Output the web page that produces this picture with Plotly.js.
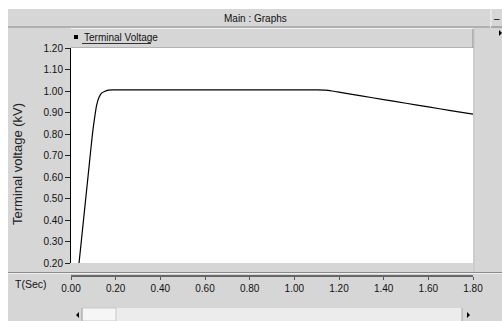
<!DOCTYPE html>
<html><head><meta charset="utf-8">
<script src="https://cdn.plot.ly/plotly-3.0.1.min.js"></script>
<style>html,body{margin:0;padding:0;background:#d6d6d6;}#chart{width:502px;height:321px;}</style>
</head><body><div id="chart"></div>
<script>
// ---- data ----
const timeSec   = [0.016, 0.036, 0.060, 0.080, 0.095, 0.105, 0.115, 0.125, 0.137, 0.150, 0.167, 0.190, 0.220, 0.400, 0.600, 0.800, 1.000, 1.100, 1.140, 1.170, 1.200, 1.300, 1.400, 1.500, 1.600, 1.700, 1.800];
const voltageKV = [0.000, 0.200, 0.440, 0.640, 0.790, 0.870, 0.935, 0.970, 0.990, 0.998, 1.004, 1.005, 1.005, 1.005, 1.005, 1.005, 1.005, 1.005, 1.004, 1.000, 0.995, 0.977, 0.960, 0.943, 0.926, 0.909, 0.892];
const yTickVals = [0.2, 0.3, 0.4, 0.5, 0.6, 0.7, 0.8, 0.9, 1.0, 1.1, 1.2];
const yTickText = ["0.20","0.30","0.40","0.50","0.60","0.70","0.80","0.90","1.00","1.10","1.20"];
const xTickVals = [0, 0.2, 0.4, 0.6, 0.8, 1.0, 1.2, 1.4, 1.6, 1.8];
const xTickText = ["0.00","0.20","0.40","0.60","0.80","1.00","1.20","1.40","1.60","1.80"];
const seriesName = "Terminal Voltage";
const windowTitle = "Main : Graphs";
const yTitle = "Terminal voltage (kV)";
const xTitle = "T(Sec)";

// ---- layout geometry (pixels -> paper) ----
const W = 502, H = 321, ML = 71, MR = 29, MT = 48, MB = 46;
const PW = W - ML - MR, PH = H - MT - MB;
const px = v => (v - ML) / PW;
const py = v => (H - MB - v) / PH;
const FONT = '"Liberation Sans", Arial, sans-serif';
const GRAY = '#d6d6d6';

function rect(x0, y0, x1, y1, fill, line) {
  return {type: 'rect', xref: 'paper', yref: 'paper', layer: 'below',
    x0: px(x0), x1: px(x1), y0: py(y0), y1: py(y1),
    fillcolor: fill, line: line || {width: 0}};
}
function hline(x0, x1, y, color, w) {
  return {type: 'line', xref: 'paper', yref: 'paper', layer: 'below',
    x0: px(x0), x1: px(x1), y0: py(y), y1: py(y), line: {color: color, width: w || 1}};
}
function vline(x, y0, y1, color, w) {
  return {type: 'line', xref: 'paper', yref: 'paper', layer: 'below',
    x0: px(x), x1: px(x), y0: py(y0), y1: py(y1), line: {color: color, width: w || 1}};
}
function tri(pts, color) {
  const p = pts.map((q, i) => (i ? 'L' : 'M') + px(q[0]) + ',' + py(q[1])).join(' ') + ' Z';
  return {type: 'path', xref: 'paper', yref: 'paper', layer: 'above', path: p,
    fillcolor: color, line: {width: 0}};
}

const shapes = [
  // white outer margins
  rect(0, 0, 502, 9, '#ffffff'),
  rect(0, 0, 8, 321, '#ffffff'),
  // window title bar
  rect(8, 9, 490, 27, GRAY),
  hline(8, 490, 27, '#8a8a8a', 1.2),
  rect(491, 9, 502, 27, GRAY),
  vline(491, 9, 27, '#f4f4f4', 1),
  hline(491, 502, 27, '#8a8a8a', 1.2),
  // legend bar
  rect(71, 29, 473, 48, GRAY),
  hline(71, 473, 28.5, '#f2f2f2', 1),
  hline(71, 473, 48, '#8c8c8c', 1),
  vline(473, 29, 48, '#8c8c8c', 1),
  rect(74, 35, 78, 39, '#000000'),
  hline(82, 151, 43.5, '#333333', 1),
  // plot area white
  {type: 'rect', xref: 'paper', yref: 'paper', layer: 'below',
   x0: 0, x1: 1, y0: py(263), y1: 1, fillcolor: '#ffffff', line: {width: 0}},
  // right side separator
  vline(474, 29, 272, '#c4c4c4', 1),
  // horizontal separator above the time axis
  hline(8, 502, 272.5, '#8a8a8a', 1),
  hline(8, 502, 273.5, '#efefef', 1),
  // scrollbar
  rect(72, 308, 473, 321, '#ececec'),
  rect(72, 308, 82, 321, GRAY),
  rect(82, 308, 116, 321, '#f6f6f6', {color: '#c8c8c8', width: 1}),
  rect(462, 308, 473, 321, GRAY),
  vline(82, 308, 321, '#a8a8a8', 1),
  vline(462, 308, 321, '#a8a8a8', 1),
  tri([[76, 315], [79, 312], [79, 318]], '#000000'),
  tri([[470, 315], [467, 312], [467, 318]], '#000000'),
  // right arrow next to legend bar
  tri([[502, 33], [499, 30], [499, 36]], '#000000')
];

const trace = {
  x: timeSec, y: voltageKV, type: 'scatter', mode: 'lines', name: seriesName,
  line: {color: '#000000', width: 1.2, shape: 'spline', smoothing: 0.6},
  hoverinfo: 'x+y'
};

const layout = {
  width: W, height: H,
  margin: {l: ML, r: MR, t: MT, b: MB, pad: 0},
  paper_bgcolor: GRAY, plot_bgcolor: 'rgba(0,0,0,0)',
  showlegend: false,
  font: {family: FONT, size: 10, color: '#111111'},
  xaxis: {
    range: [0, 1.8], anchor: 'free', position: 0,
    tickvals: xTickVals, ticktext: xTickText,
    ticks: 'outside', ticklen: 3, tickcolor: '#555555', tickwidth: 1,
    showline: true, linecolor: '#666666', linewidth: 1.6,
    showgrid: false, zeroline: false, fixedrange: true,
    tickfont: {family: FONT, size: 10, color: '#111111'}
  },
  yaxis: {
    domain: [py(263), 1], range: [0.2, 1.2],
    tickvals: yTickVals, ticktext: yTickText,
    ticks: 'outside', ticklen: 5, tickcolor: '#222222', tickwidth: 1,
    showline: true, linecolor: '#000000', linewidth: 1,
    showgrid: false, zeroline: false, fixedrange: true,
    tickfont: {family: FONT, size: 10, color: '#111111'}
  },
  shapes: shapes,
  annotations: [
    {text: windowTitle, xref: 'paper', yref: 'paper', x: px(255), y: py(18),
     showarrow: false, xanchor: 'center', yanchor: 'middle', font: {family: FONT, size: 10, color: '#111'}},
    {text: '\u2013', xref: 'paper', yref: 'paper', x: px(497), y: py(18.5),
     showarrow: false, xanchor: 'center', yanchor: 'middle', font: {family: FONT, size: 10, color: '#000'}},
    {text: seriesName, xref: 'paper', yref: 'paper', x: px(82), y: py(37.5),
     showarrow: false, xanchor: 'left', yanchor: 'middle', font: {family: FONT, size: 10, color: '#111'}},
    {text: yTitle, xref: 'paper', yref: 'paper', x: px(17), y: py(164),
     showarrow: false, textangle: -90, xanchor: 'center', yanchor: 'middle', font: {family: FONT, size: 13, color: '#222'}},
    {text: xTitle, xref: 'paper', yref: 'paper', x: px(13), y: py(284),
     showarrow: false, xanchor: 'left', yanchor: 'middle', font: {family: FONT, size: 10.5, color: '#111'}}
  ]
};

Plotly.newPlot('chart', [trace], layout, {displayModeBar: false, staticPlot: true});
</script>
</body></html>
